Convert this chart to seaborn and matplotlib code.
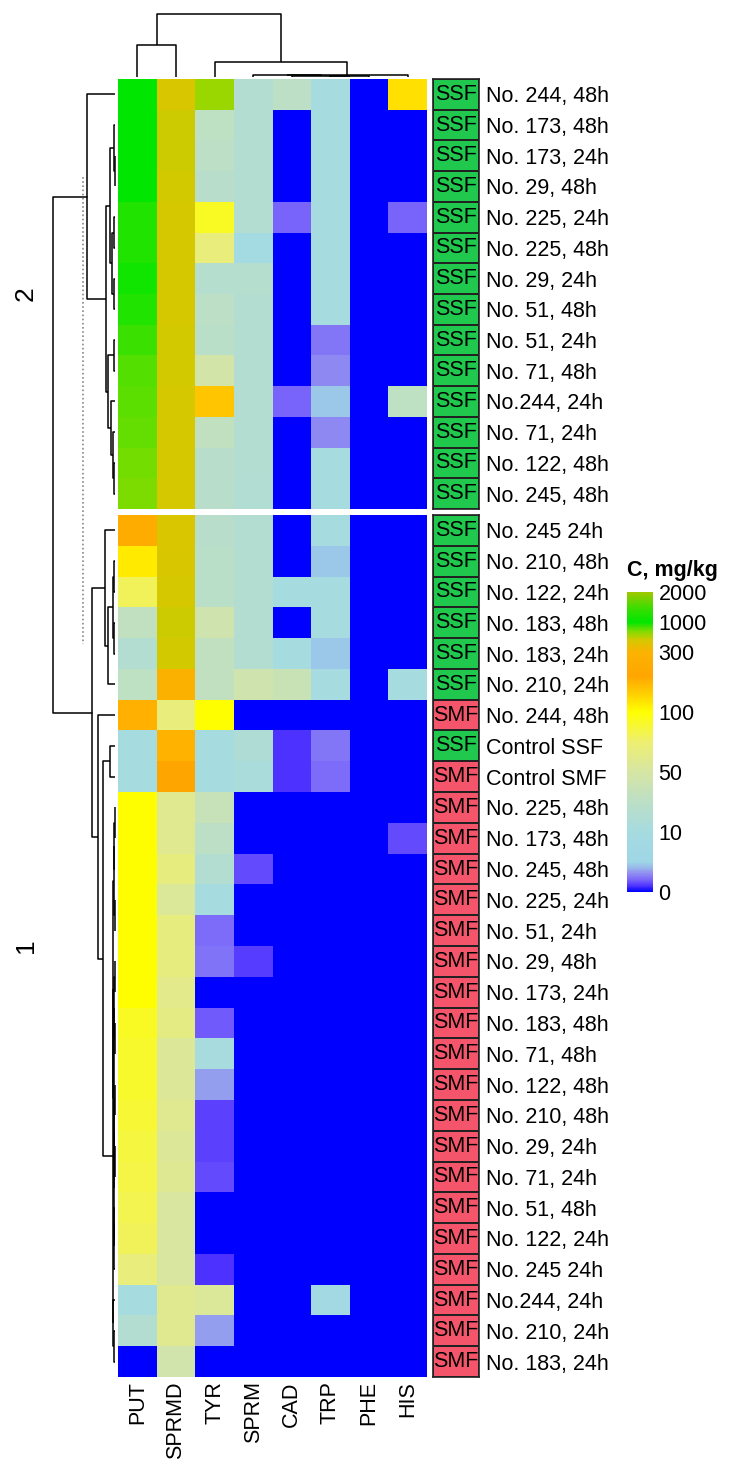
import numpy as np
import pandas as pd
import matplotlib
matplotlib.use("Agg")
import matplotlib.pyplot as plt
import matplotlib.colors as mcolors
import seaborn as sns

sns.set_style("white")
plt.rcParams["font.family"] = ["Liberation Sans", "DejaVu Sans"]
plt.rcParams["text.color"] = "black"
plt.rcParams["xtick.color"] = "black"
plt.rcParams["ytick.color"] = "black"
plt.rcParams["axes.labelcolor"] = "black"

# ---- data ----
amines = ["PUT", "SPRMD", "TYR", "SPRM", "CAD", "TRP", "PHE", "HIS"]

# slice "2" (upper block)
top_labels = ["No. 244, 48h", "No. 173, 48h", "No. 173, 24h", "No. 29, 48h",
              "No. 225, 24h", "No. 225, 48h", "No. 29, 24h", "No. 51, 48h",
              "No. 51, 24h", "No. 71, 48h", "No.244, 24h", "No. 71, 24h",
              "No. 122, 48h", "No. 245, 48h"]
top_groups = ["SSF"] * 14
top_values = [
    [1000, 560, 720, 22, 30, 10, 0, 140],
    [1000, 600, 32, 22, 0, 10, 0, 0],
    [1000, 600, 30, 22, 0, 10, 0, 0],
    [1000, 590, 26, 22, 0, 10, 0, 0],
    [940, 570, 92, 22, 2, 10, 0, 2],
    [940, 570, 70, 9, 0, 10, 0, 0],
    [970, 570, 24, 24, 0, 10, 0, 0],
    [940, 570, 30, 22, 0, 10, 0, 0],
    [900, 590, 28, 22, 0, 2.5, 0, 0],
    [860, 580, 48, 22, 0, 3, 0, 0],
    [850, 570, 175, 22, 2, 4.5, 0, 32],
    [830, 570, 34, 22, 0, 3, 0, 0],
    [810, 570, 26, 22, 0, 10, 0, 0],
    [790, 570, 26, 20, 0, 10, 0, 0],
]

# slice "1" (lower block)
bot_labels = ["No. 245 24h", "No. 210, 48h", "No. 122, 24h", "No. 183, 48h",
              "No. 183, 24h", "No. 210, 24h", "No. 244, 48h", "Control SSF",
              "Control SMF", "No. 225, 48h", "No. 173, 48h", "No. 245, 48h",
              "No. 225, 24h", "No. 51, 24h", "No. 29, 48h", "No. 173, 24h",
              "No. 183, 48h", "No. 71, 48h", "No. 122, 48h", "No. 210, 48h",
              "No. 29, 24h", "No. 71, 24h", "No. 51, 48h", "No. 122, 24h",
              "No. 245 24h", "No.244, 24h", "No. 210, 24h", "No. 183, 24h"]
bot_groups = ["SSF"] * 6 + ["SMF", "SSF"] + ["SMF"] * 20
bot_values = [
    [210, 550, 26, 22, 0, 10, 0, 0],
    [125, 560, 28, 22, 0, 4.5, 0, 0],
    [80, 570, 28, 22, 10, 10, 0, 0],
    [34, 600, 44, 22, 0, 10, 0, 0],
    [22, 590, 34, 22, 10, 4.5, 0, 0],
    [32, 290, 34, 44, 40, 10, 0, 10],
    [205, 70, 100, 0, 0, 0, 0, 0],
    [10, 200, 10, 18, 1, 2.5, 0, 0],
    [10, 220, 10, 14, 1, 2.2, 0, 0],
    [100, 60, 38, 0, 0, 0, 0, 0],
    [100, 60, 30, 0, 0, 0, 0, 1.5],
    [100, 68, 22, 1.5, 0, 0, 0, 0],
    [100, 55, 10, 0, 0, 0, 0, 0],
    [100, 68, 2.2, 0, 0, 0, 0, 0],
    [100, 68, 2.4, 1.2, 0, 0, 0, 0],
    [100, 62, 0, 0, 0, 0, 0, 0],
    [92, 66, 1.8, 0, 0, 0, 0, 0],
    [90, 56, 12, 0, 0, 0, 0, 0],
    [90, 56, 3.5, 0, 0, 0, 0, 0],
    [88, 60, 1.3, 0, 0, 0, 0, 0],
    [86, 56, 1.3, 0, 0, 0, 0, 0],
    [84, 58, 1.5, 0, 0, 0, 0, 0],
    [82, 52, 0, 0, 0, 0, 0, 0],
    [80, 52, 0, 0, 0, 0, 0, 0],
    [70, 52, 1.0, 0, 0, 0, 0, 0],
    [10, 60, 55, 0, 0, 8, 0, 0],
    [22, 60, 3.5, 0, 0, 0, 0, 0],
    [0, 46, 0, 0, 0, 0, 0, 0],
]

# dendrograms: (child a, child b, height); ids >= n are earlier merges
col_merges = [(5, 6, 0.8), (4, 8, 1.2), (3, 9, 1.8), (10, 7, 2.5),
              (2, 11, 15), (0, 1, 32), (13, 12, 63)]
top_merges = [(2, 3, 0.5), (1, 14, 1.5), (4, 5, 1.0), (6, 7, 1.0),
              (16, 17, 3.0), (15, 18, 5.0), (8, 9, 1.5), (12, 13, 1.0),
              (11, 21, 2.0), (10, 22, 4.0), (20, 23, 7.0), (19, 24, 9.0),
              (0, 25, 28.0)]
bot_merges = [(1, 2, 1.0), (3, 4, 1.0), (28, 29, 2.5), (30, 5, 7.0),
              (0, 31, 10.0), (7, 8, 5.0), (9, 10, 0.5), (34, 11, 0.8),
              (12, 13, 0.4), (35, 36, 1.0), (14, 15, 0.4), (16, 17, 0.5),
              (38, 39, 0.8), (18, 19, 0.4), (20, 21, 0.5), (41, 42, 0.9),
              (22, 23, 0.6), (44, 24, 1.0), (43, 45, 1.2), (40, 46, 1.4),
              (37, 47, 1.6), (26, 27, 1.0), (25, 49, 2.0), (48, 50, 2.2),
              (33, 51, 12.0), (6, 52, 17.0), (32, 53, 23.0)]
parent_height = 62.0
cut_height = 32.0

legend_ticks = [0, 10, 50, 100, 300, 1000, 2000]
legend_pos = [0, 0.2, 0.4, 0.6, 0.8, 0.9, 1.0]
group_colors = {"SSF": "#20c94e", "SMF": "#f5556a"}

# ---- colour mapping ----
stops = [(0.00, "#0000ff"), (0.02, "#4f33ff"), (0.04, "#7a66fa"),
         (0.06, "#8f8af2"), (0.08, "#98b8ea"), (0.10, "#9ed6e6"),
         (0.20, "#a6dbe0"), (0.30, "#bcdfc6"), (0.40, "#d6e5a4"),
         (0.50, "#eeef70"), (0.60, "#ffff00"), (0.66, "#ffd000"),
         (0.72, "#ffa500"), (0.80, "#fbb300"), (0.84, "#d6c800"),
         (0.87, "#80dc00"), (0.90, "#00e600"), (0.95, "#40dc00"),
         (1.00, "#a0c800")]
cmap = mcolors.LinearSegmentedColormap.from_list("conc", stops, N=512)
norm = mcolors.FuncNorm((lambda v: np.interp(v, legend_ticks, legend_pos),
                         lambda p: np.interp(p, legend_pos, legend_ticks)),
                        vmin=0, vmax=2000)

# ---- layout (pixels) ----
W, H = 731, 1479
fig = plt.figure(figsize=(W / 100, H / 100), dpi=100)


def px_axes(x0, y0, x1, y1):
    return fig.add_axes([x0 / W, 1 - y1 / H, (x1 - x0) / W, (y1 - y0) / H])


HM_L, HM_R = 118, 427
TOP_Y0, TOP_Y1 = 79, 509
BOT_Y0, BOT_Y1 = 515, 1377
ANN_L, ANN_R = 433, 479
FS = 15.5

top_df = pd.DataFrame(top_values, columns=amines, index=top_labels)
bot_df = pd.DataFrame(bot_values, columns=amines, index=bot_labels)

for (y0, y1, df, groups, labels, last) in [
        (TOP_Y0, TOP_Y1, top_df, top_groups, top_labels, False),
        (BOT_Y0, BOT_Y1, bot_df, bot_groups, bot_labels, True)]:
    ax = px_axes(HM_L, y0, HM_R, y1)
    sns.heatmap(df, ax=ax, cmap=cmap, norm=norm, cbar=False,
                xticklabels=amines if last else False, yticklabels=False)
    ax.set_ylabel("")
    if last:
        ax.set_xticklabels(amines, rotation=90, fontsize=FS, color="black")
        ax.tick_params(axis="x", length=0, pad=3)

    aax = px_axes(ANN_L, y0, ANN_R, y1)
    codes = np.array([[0 if g == "SSF" else 1] for g in groups])
    sns.heatmap(codes, ax=aax, cbar=False,
                cmap=mcolors.ListedColormap([group_colors["SSF"], group_colors["SMF"]]),
                vmin=0, vmax=1, annot=np.array([[g] for g in groups]), fmt="",
                annot_kws={"fontsize": FS, "color": "black"},
                linewidths=1.2, linecolor="#222222",
                xticklabels=False, yticklabels=labels)
    aax.yaxis.tick_right()
    aax.set_yticklabels(labels, rotation=0, fontsize=FS, color="black")
    aax.tick_params(axis="y", length=0, pad=5, left=False, right=False)
    for s in ["top", "bottom", "left", "right"]:
        aax.spines[s].set_visible(True)
        aax.spines[s].set_color("#222222")
        aax.spines[s].set_linewidth(1.2)


def dendro(ax, merges, leaf_pos, horizontal):
    pos = list(leaf_pos)
    hgt = [0.0] * len(leaf_pos)
    for a, b, h in merges:
        hs = [hgt[a], h, h, hgt[b]]
        ps = [pos[a], pos[a], pos[b], pos[b]]
        if horizontal:
            ax.plot(hs, ps, color="black", lw=1.1, solid_capstyle="butt")
        else:
            ax.plot(ps, hs, color="black", lw=1.1, solid_capstyle="butt")
        pos.append((pos[a] + pos[b]) / 2)
        hgt.append(h)
    return pos[-1], hgt[-1]


# column dendrogram
cax_d = px_axes(HM_L, 10, HM_R, 77)
dendro(cax_d, col_merges, [i + 0.5 for i in range(len(amines))], horizontal=False)
cax_d.set_xlim(0, len(amines))
cax_d.set_ylim(0, 67)
cax_d.axis("off")

# row dendrogram (y in pixel units)
rax = px_axes(0, TOP_Y0, HM_L, BOT_Y1)
rh_top = (TOP_Y1 - TOP_Y0) / len(top_labels)
rh_bot = (BOT_Y1 - BOT_Y0) / len(bot_labels)
p2, h2 = dendro(rax, top_merges,
                [TOP_Y0 + (i + 0.5) * rh_top for i in range(len(top_labels))], True)
p1, h1 = dendro(rax, bot_merges,
                [BOT_Y0 + (i + 0.5) * rh_bot for i in range(len(bot_labels))], True)
rax.plot([h2, parent_height, parent_height, h1], [p2, p2, p1, p1],
         color="black", lw=1.1)
rax.plot([cut_height, cut_height], [TOP_Y0 + 3.2 * rh_top, BOT_Y0 + 4.2 * rh_bot],
         color="#888888", lw=1.2, ls=(0, (1, 1.5)))
rax.set_xlim(115, -3)
rax.set_ylim(BOT_Y1, TOP_Y0)
rax.axis("off")

# slice titles
fig.text(26 / W, 1 - (TOP_Y0 + TOP_Y1) / 2 / H, "2", rotation=90,
         fontsize=19, ha="center", va="center")
fig.text(26 / W, 1 - (BOT_Y0 + BOT_Y1) / 2 / H, "1", rotation=90,
         fontsize=19, ha="center", va="center")

# colour legend
lax = px_axes(627, 592, 653, 892)
sm = plt.cm.ScalarMappable(norm=norm, cmap=cmap)
cb = fig.colorbar(sm, cax=lax, ticks=legend_ticks)
cb.minorticks_off()
cb.outline.set_visible(False)
cb.ax.set_yticklabels([str(t) for t in legend_ticks])
cb.ax.tick_params(direction="in", color="white", labelcolor="black", length=5,
                  width=1.2, left=True, right=True, labelright=True,
                  labelleft=False, labelsize=FS, pad=4)
fig.text(627 / W, 1 - 570 / H, "C, mg/kg", fontsize=FS, fontweight="bold",
         ha="left", va="center")

fig.savefig("out.png", dpi=100, facecolor="white")
